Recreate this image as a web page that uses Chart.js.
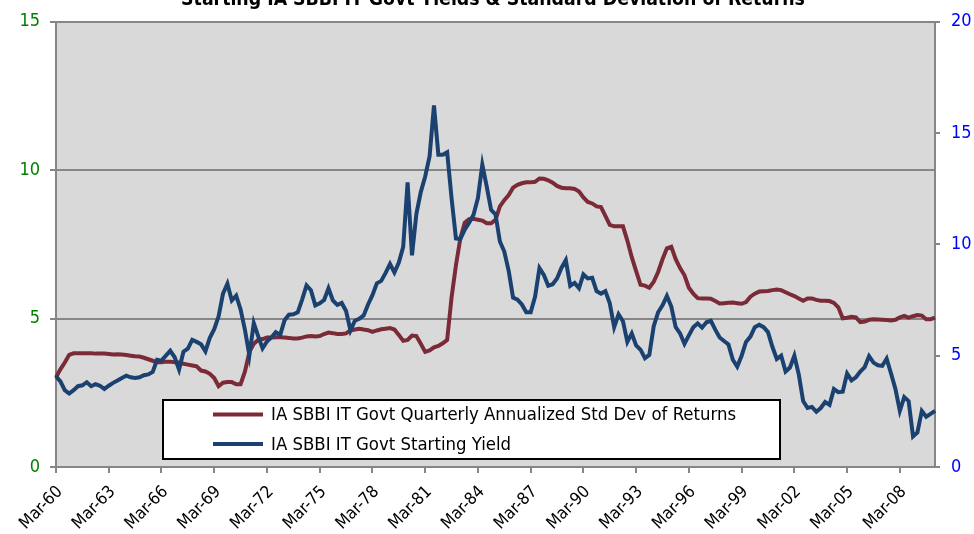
<!DOCTYPE html>
<html>
<head>
<meta charset="utf-8">
<script src="https://cdn.jsdelivr.net/npm/chart.js@4.4.1/dist/chart.umd.min.js"></script>
<style>
  html, body { margin: 0; padding: 0; background: #ffffff; }
  #wrap { width: 974px; height: 534px; }
</style>
</head>
<body>
<div id="wrap"><canvas id="chart" width="974" height="534"></canvas></div>
<script>
var chartTitle = 'Starting IA SBBI IT Govt Yields & Standard Deviation of Returns';
var stdDevLabel = 'IA SBBI IT Govt Quarterly Annualized Std Dev of Returns';
var yieldLabel = 'IA SBBI IT Govt Starting Yield';

// quarters, Mar-60 .. Mar-10
var months = ['Mar', 'Jun', 'Sep', 'Dec'];
var firstYear = 1960;
var quarterCount = 201;

// std dev of returns (left axis, %)
var stdDev = [
    3.02, 3.29, 3.52, 3.78, 3.83, 3.83, 3.83, 3.83, 3.83, 3.82,
    3.82, 3.82, 3.81, 3.79, 3.80, 3.79, 3.77, 3.75, 3.73, 3.72,
    3.68, 3.63, 3.58, 3.53, 3.53, 3.55, 3.55, 3.53, 3.52, 3.48,
    3.45, 3.42, 3.39, 3.25, 3.22, 3.14, 3.00, 2.72, 2.84, 2.86,
    2.86, 2.79, 2.79, 3.22, 3.88, 4.15, 4.28, 4.31, 4.36, 4.36,
    4.37, 4.37, 4.36, 4.35, 4.33, 4.33, 4.36, 4.40, 4.41, 4.40,
    4.41, 4.48, 4.53, 4.51, 4.48, 4.48, 4.50, 4.60, 4.63, 4.66,
    4.63, 4.61, 4.55, 4.60, 4.64, 4.66, 4.68, 4.63, 4.45, 4.25,
    4.28, 4.43, 4.41, 4.15, 3.88, 3.93, 4.03, 4.08, 4.17, 4.28,
    5.71, 6.80, 7.70, 8.23, 8.35, 8.36, 8.33, 8.30, 8.21, 8.21,
    8.33, 8.78, 8.99, 9.16, 9.41, 9.51, 9.56, 9.59, 9.59, 9.61,
    9.72, 9.71, 9.66, 9.58, 9.47, 9.41, 9.39, 9.39, 9.37, 9.28,
    9.08, 8.93, 8.88, 8.78, 8.76, 8.46, 8.16, 8.11, 8.11, 8.11,
    7.63, 7.07, 6.60, 6.14, 6.11, 6.04, 6.24, 6.57, 7.00, 7.37,
    7.42, 7.00, 6.70, 6.46, 6.04, 5.84, 5.69, 5.68, 5.68, 5.67,
    5.59, 5.51, 5.52, 5.53, 5.54, 5.52, 5.50, 5.56, 5.74, 5.84,
    5.91, 5.92, 5.93, 5.96, 5.98, 5.96, 5.89, 5.82, 5.76, 5.68,
    5.60, 5.68, 5.68, 5.63, 5.60, 5.60, 5.59, 5.53, 5.38, 5.01,
    5.03, 5.06, 5.04, 4.88, 4.90, 4.96, 4.98, 4.97, 4.96, 4.95,
    4.94, 4.96, 5.04, 5.09, 5.03, 5.08, 5.12, 5.10, 4.98, 4.98,
    5.03
];

// starting yield (right axis, %)
var startYield = [
    4.07, 3.85, 3.45, 3.30, 3.45, 3.63, 3.67, 3.81, 3.63, 3.72,
    3.65, 3.50, 3.65, 3.78, 3.89, 4.00, 4.10, 4.03, 4.00, 4.03,
    4.12, 4.16, 4.27, 4.82, 4.78, 5.00, 5.22, 4.93, 4.38, 5.18,
    5.32, 5.71, 5.62, 5.51, 5.20, 5.80, 6.19, 6.77, 7.79, 8.23,
    7.48, 7.70, 7.08, 6.15, 5.02, 6.46, 5.88, 5.33, 5.64, 5.82,
    6.06, 5.93, 6.59, 6.84, 6.86, 6.95, 7.52, 8.16, 7.94, 7.26,
    7.35, 7.50, 8.03, 7.48, 7.28, 7.37, 7.01, 6.13, 6.57, 6.66,
    6.81, 7.30, 7.72, 8.25, 8.36, 8.72, 9.12, 8.74, 9.18, 9.89,
    12.79, 9.51, 11.37, 12.35, 13.05, 13.95, 16.24, 14.03, 14.03, 14.14,
    12.08, 10.27, 10.24, 10.66, 10.97, 11.33, 12.08, 13.58, 12.61, 11.55,
    11.35, 10.13, 9.68, 8.81, 7.61, 7.52, 7.30, 6.95, 6.95, 7.65,
    8.94, 8.63, 8.14, 8.21, 8.47, 8.94, 9.29, 8.14, 8.27, 8.03,
    8.65, 8.47, 8.50, 7.90, 7.79, 7.90, 7.35, 6.28, 6.86, 6.55,
    5.62, 6.00, 5.46, 5.27, 4.89, 5.04, 6.33, 6.95, 7.26, 7.68,
    7.21, 6.28, 6.00, 5.53, 5.91, 6.28, 6.45, 6.26, 6.50, 6.57,
    6.17, 5.82, 5.66, 5.51, 4.82, 4.51, 5.00, 5.62, 5.86, 6.28,
    6.39, 6.28, 6.06, 5.40, 4.85, 5.00, 4.29, 4.47, 5.00, 4.16,
    2.96, 2.65, 2.70, 2.48, 2.65, 2.92, 2.79, 3.50, 3.36, 3.38,
    4.20, 3.89, 4.03, 4.29, 4.49, 4.98, 4.69, 4.57, 4.54, 4.87,
    4.20, 3.50, 2.52, 3.14, 2.96, 1.37, 1.55, 2.52, 2.26, 2.39,
    2.52
];

var FONT = '"DejaVu Sans Condensed", "DejaVu Sans", sans-serif';
var GRID = '#868686';
var RED = '#7b2b37';
var BLUE = '#1a4170';

function quarterLabels() {
    var labels = [];
    for (var i = 0; i < quarterCount; i++) {
        var year = (firstYear + Math.floor(i / 4)) % 100;
        labels.push(months[i % 4] + '-' + (year < 10 ? '0' + year : year));
    }
    return labels;
}

// gray plot area
var plotBackground = {
    id: 'plotBackground',
    beforeDraw: function(chart) {
        var a = chart.chartArea;
        var ctx = chart.ctx;
        ctx.save();
        ctx.fillStyle = '#d9d9d9';
        ctx.fillRect(a.left, a.top, a.right - a.left, a.bottom - a.top);
        ctx.restore();
    }
};

// boxed legend inside the plot, lower left
var legendBox = {
    id: 'legendBox',
    afterDatasetsDraw: function(chart) {
        var a = chart.chartArea;
        var ctx = chart.ctx;
        var x0 = a.left + 107;
        var y0 = a.bottom - 67;
        var rows = [0, 1];

        ctx.save();
        ctx.fillStyle = '#ffffff';
        ctx.fillRect(x0, y0, 617, 59);
        ctx.strokeStyle = '#000000';
        ctx.lineWidth = 2;
        ctx.strokeRect(x0, y0, 617, 59);

        ctx.font = '18.4px ' + FONT;
        ctx.textAlign = 'left';
        ctx.textBaseline = 'middle';
        for (var r = 0; r < rows.length; r++) {
            var ds = chart.data.datasets[rows[r]];
            var y = y0 + 14.5 + r * 29.5;
            ctx.strokeStyle = ds.borderColor;
            ctx.lineWidth = ds.borderWidth;
            ctx.beginPath();
            ctx.moveTo(x0 + 50, y);
            ctx.lineTo(x0 + 100, y);
            ctx.stroke();
            ctx.fillStyle = '#000000';
            ctx.fillText(ds.label, x0 + 108, y + 1);
        }
        ctx.restore();
    }
};

// title, cut off at the top edge as in the source image
var titleText = {
    id: 'titleText',
    afterDraw: function(chart) {
        var ctx = chart.ctx;
        ctx.save();
        ctx.font = 'bold 19.3px ' + FONT;
        ctx.fillStyle = '#000000';
        ctx.textAlign = 'center';
        ctx.textBaseline = 'alphabetic';
        ctx.fillText(chartTitle, 493, 5);
        ctx.restore();
    }
};

var quarters = quarterLabels();

new Chart(document.getElementById('chart'), {
    type: 'line',
    data: {
        labels: quarters,
        datasets: [{
            label: stdDevLabel,
            data: stdDev,
            yAxisID: 'y',
            borderColor: RED,
            borderWidth: 4,
            pointRadius: 0,
            tension: 0,
            fill: false,
            order: 2
        }, {
            label: yieldLabel,
            data: startYield,
            yAxisID: 'y2',
            borderColor: BLUE,
            borderWidth: 4,
            pointRadius: 0,
            tension: 0,
            fill: false,
            order: 1
        }]
    },
    options: {
        responsive: false,
        animation: false,
        layout: { padding: { top: 15, left: 0, right: 0, bottom: 0 } },
        plugins: {
            legend: { display: false },
            title: { display: false },
            tooltip: { enabled: false }
        },
        scales: {
            x: {
                type: 'category',
                offset: false,
                grid: {
                    drawOnChartArea: false,
                    drawTicks: true,
                    tickLength: 6,
                    lineWidth: 2,
                    color: function(c) { return c.index % 12 === 0 ? GRID : 'rgba(0,0,0,0)'; }
                },
                border: { display: true, color: GRID, width: 2 },
                ticks: {
                    autoSkip: false,
                    maxRotation: 45,
                    minRotation: 45,
                    padding: 9,
                    labelOffset: 4,
                    color: '#000000',
                    font: { family: FONT, size: 17 },
                    callback: function(value, index) {
                        return index % 12 === 0 ? this.getLabelForValue(value) : '';
                    }
                },
                afterFit: function(scale) { scale.height = 67; }
            },
            y: {
                position: 'left',
                min: 0,
                max: 15,
                ticks: {
                    stepSize: 5,
                    padding: 10,
                    color: '#008000',
                    font: { family: FONT, size: 18 }
                },
                grid: { color: GRID, lineWidth: 2, tickLength: 6 },
                border: { display: true, color: GRID, width: 2 },
                afterFit: function(scale) { scale.width = 56; }
            },
            y2: {
                position: 'right',
                min: 0,
                max: 20,
                ticks: {
                    stepSize: 5,
                    padding: 11,
                    color: '#0000ff',
                    font: { family: FONT, size: 18 }
                },
                grid: { drawOnChartArea: false, color: GRID, lineWidth: 2, tickLength: 5 },
                border: { display: true, color: GRID, width: 2 },
                afterFit: function(scale) { scale.width = 39; }
            }
        }
    },
    plugins: [plotBackground, legendBox, titleText]
});
</script>
</body>
</html>
